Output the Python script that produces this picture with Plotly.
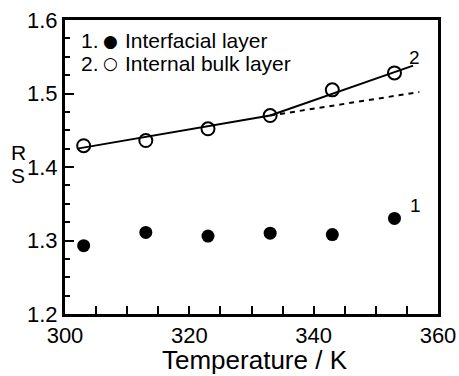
import plotly.graph_objects as go

temps = [303, 313, 323, 333, 343, 353]
interfacial = [1.293, 1.311, 1.306, 1.310, 1.308, 1.330]
bulk = [1.429, 1.436, 1.452, 1.470, 1.505, 1.528]

fit1_x = [302, 333]
fit1_y = [1.425, 1.470]
fit2_x = [333, 356]
fit2_y = [1.470, 1.538]
ext_x = [333, 357]
ext_y = [1.470, 1.502]

legend_nums = ["1.", "2."]
legend_syms = ["\u25cf", "\u25cb"]
legend_names = ["Interfacial layer", "Internal bulk layer"]
x_title = "Temperature / K"

FONT = "Liberation Sans"
PW = 373.0  # plot width px
PH = 294.0  # plot height px

fig = go.Figure()
fig.add_trace(go.Scatter(x=fit1_x, y=fit1_y, mode="lines",
                         line=dict(color="black", width=2), showlegend=False))
fig.add_trace(go.Scatter(x=fit2_x, y=fit2_y, mode="lines",
                         line=dict(color="black", width=2), showlegend=False))
fig.add_trace(go.Scatter(x=ext_x, y=ext_y, mode="lines",
                         line=dict(color="black", width=2, dash="5px,5px"), showlegend=False))
fig.add_trace(go.Scatter(x=temps, y=interfacial, mode="markers",
                         marker=dict(symbol="circle", size=13, color="black"),
                         showlegend=False))
fig.add_trace(go.Scatter(x=temps, y=bulk, mode="markers",
                         marker=dict(symbol="circle-open", size=13, color="black",
                                     line=dict(width=2)),
                         showlegend=False))

annotations = [
    dict(x=356.3, y=1.348, xref="x", yref="y", text="1", showarrow=False,
         font=dict(size=19, family=FONT, color="black")),
    dict(x=356.2, y=1.549, xref="x", yref="y", text="2", showarrow=False,
         font=dict(size=19, family=FONT, color="black")),
    dict(x=0, y=(314 - 152) / PH, xref="paper", yref="paper", xanchor="center", yanchor="middle",
         xshift=-47, text="R", showarrow=False,
         font=dict(size=21, family=FONT, color="black")),
    dict(x=0, y=(314 - 176) / PH, xref="paper", yref="paper", xanchor="center", yanchor="middle",
         xshift=-47, text="S", showarrow=False,
         font=dict(size=21, family=FONT, color="black")),
    dict(x=(255 - 65) / PW, y=-(376 - 314) / PH, xref="paper", yref="paper",
         xanchor="center", yanchor="bottom", borderpad=0,
         text=x_title, showarrow=False,
         font=dict(size=26, family=FONT, color="black")),
]
legend_rows_y = [(314 - 41) / PH, (314 - 63) / PH]
for i in range(2):
    yy = legend_rows_y[i]
    annotations.append(dict(x=(79 - 65) / PW, y=yy, xref="paper", yref="paper",
                            xanchor="left", yanchor="middle", text=legend_nums[i],
                            showarrow=False, font=dict(size=21, family=FONT, color="black")))
    annotations.append(dict(x=(110 - 65) / PW, y=yy, xref="paper", yref="paper",
                            xanchor="center", yanchor="middle", text=legend_syms[i],
                            showarrow=False, font=dict(size=17, family="DejaVu Sans", color="black")))
    annotations.append(dict(x=(123 - 65) / PW, y=yy, xref="paper", yref="paper",
                            xanchor="left", yanchor="middle", text=legend_names[i],
                            showarrow=False, font=dict(size=21, family=FONT, color="black")))

fig.update_layout(
    width=459, height=376,
    margin=dict(l=65, r=21, t=20, b=62),
    paper_bgcolor="white", plot_bgcolor="white",
    font=dict(family=FONT, color="black"),
    annotations=annotations,
    showlegend=False,
)
fig.update_xaxes(
    range=[300, 360], tick0=300, dtick=20, showgrid=False, zeroline=False,
    showline=True, linewidth=3, linecolor="black", mirror=True,
    ticks="inside", ticklen=8, tickwidth=2, tickcolor="black",
    minor=dict(dtick=5, ticks="inside", ticklen=8, tickwidth=2, tickcolor="black", showgrid=False),
    tickfont=dict(size=22, family=FONT, color="black"),
    automargin=False,
)
fig.update_yaxes(
    range=[1.2, 1.6], tick0=1.2, dtick=0.1, tickformat=".1f", showgrid=False, zeroline=False,
    showline=True, linewidth=3, linecolor="black", mirror=True,
    ticks="inside", ticklen=9, tickwidth=2, tickcolor="black",
    minor=dict(dtick=0.025, ticks="inside", ticklen=5, tickwidth=2, tickcolor="black", showgrid=False),
    tickfont=dict(size=22, family=FONT, color="black"),
    automargin=False,
)

fig.write_html("out.html")
